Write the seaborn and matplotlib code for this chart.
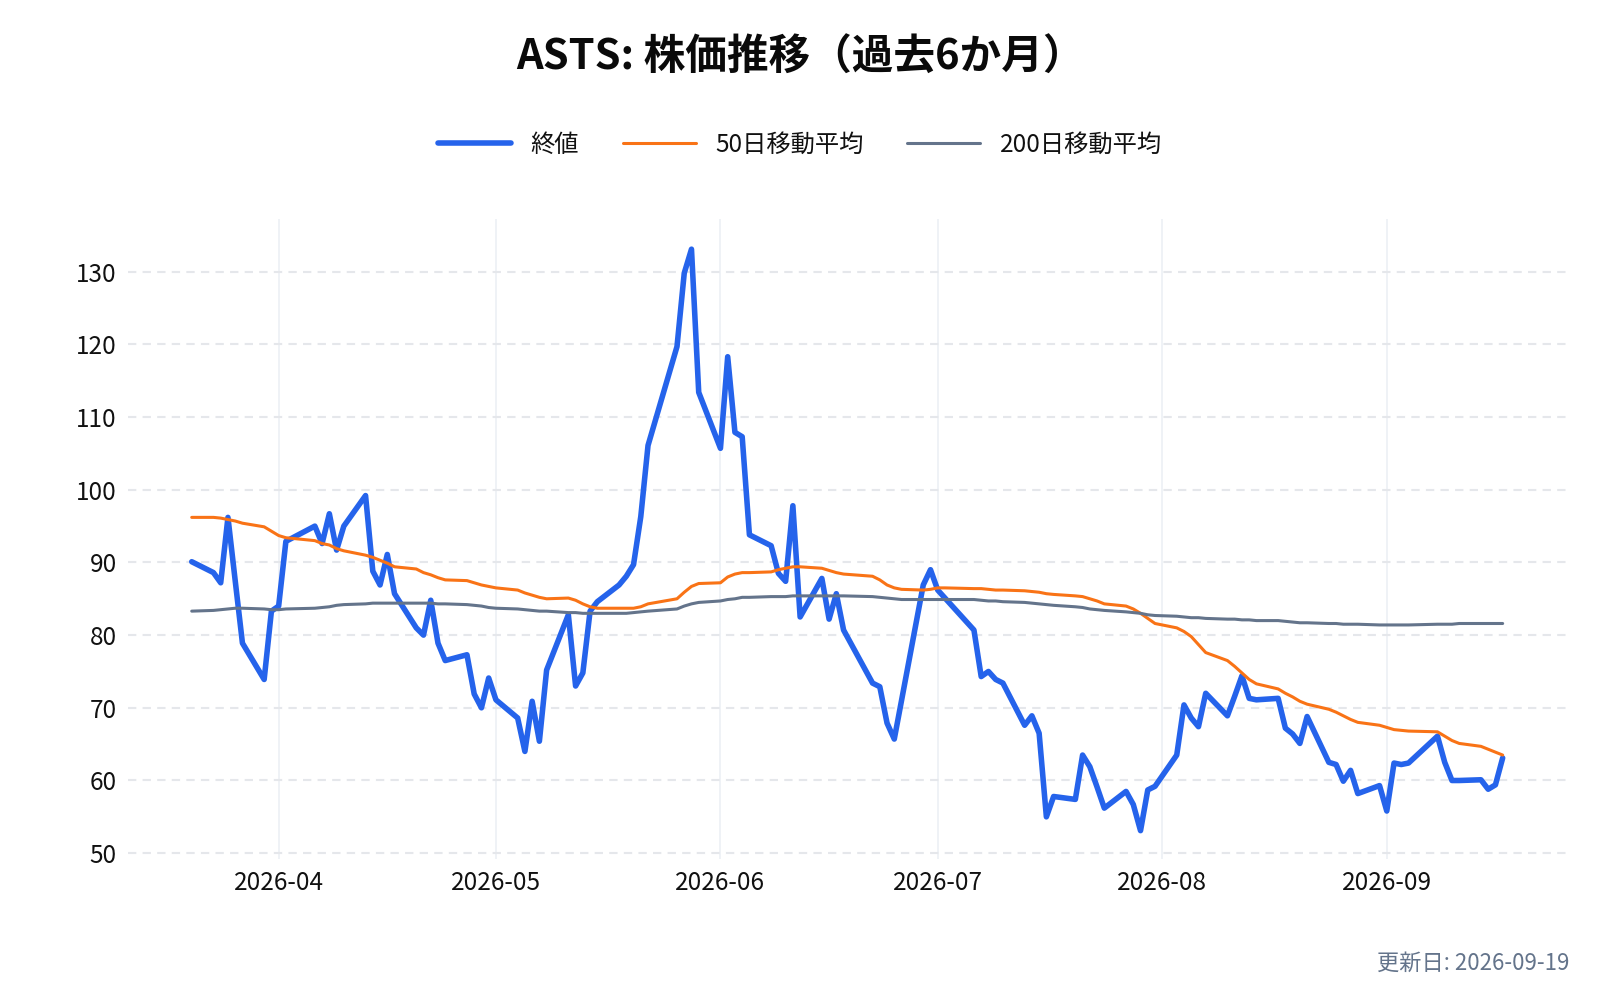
import pandas as pd
import numpy as np
import matplotlib.pyplot as plt
import matplotlib.dates as mdates
from matplotlib.lines import Line2D
import seaborn as sns

# trading days (US market holidays skipped)
holidays = ["2026-04-03", "2026-05-25", "2026-06-19", "2026-07-03", "2026-09-07"]
dates = pd.bdate_range("2026-03-20", "2026-09-17", freq="C", holidays=holidays)

close = [
    90.1, 88.6, 87.2, 96.2, 87.5, 78.9, 73.9, 83.3,                      # Mar
    84.0, 92.9, 95.0, 92.6, 96.7, 91.7, 95.0, 99.2, 88.8, 86.9, 91.1, 85.7,
    81.0, 80.0, 84.8, 78.9, 76.5, 77.3, 71.9, 70.0, 74.1,                # Apr
    71.1, 68.6, 64.0, 70.9, 65.4, 75.2, 82.8, 73.0, 74.8, 83.3, 84.6,
    86.9, 88.1, 89.7, 96.3, 106.1, 119.7, 129.8, 133.1, 113.4,           # May
    105.7, 118.3, 107.9, 107.3, 93.8, 92.3, 88.5, 87.4, 97.8, 82.5, 87.8,
    82.2, 85.7, 80.7, 73.4, 72.9, 67.9, 65.7, 71.0, 86.9, 89.0,          # Jun
    86.2, 85.1, 80.7, 74.3, 75.0, 73.9, 73.4, 67.6, 68.9, 66.5, 55.0,
    57.8, 57.4, 63.5, 61.9, 59.1, 56.2, 58.5, 56.7, 53.1, 58.7, 59.2,    # Jul
    63.5, 70.4, 68.6, 67.4, 72.0, 68.9, 71.6, 74.4, 71.3, 71.1, 71.3,
    67.2, 66.4, 65.1, 68.8, 62.5, 62.2, 59.9, 61.4, 58.2, 59.3,          # Aug
    55.8, 62.4, 62.2, 62.4, 66.1, 62.5, 60.0, 60.0, 60.1, 58.8, 59.4, 63.1,  # Sep
]

ma50 = [
    96.2, 96.2, 96.1, 95.9, 95.7, 95.4, 94.9, 94.3,
    93.7, 93.4, 93.0, 92.6, 92.4, 91.9, 91.6, 91.0, 90.7, 90.3, 89.9, 89.4,
    89.1, 88.6, 88.3, 87.9, 87.6, 87.5, 87.2, 86.9, 86.7,
    86.5, 86.2, 85.8, 85.5, 85.2, 85.0, 85.1, 84.8, 84.3, 83.9, 83.7,
    83.7, 83.7, 83.7, 83.9, 84.3, 85.0, 85.9, 86.7, 87.1,
    87.2, 88.0, 88.4, 88.6, 88.6, 88.7, 89.0, 89.2, 89.4, 89.4, 89.2,
    88.9, 88.6, 88.4, 88.1, 87.6, 86.9, 86.5, 86.3, 86.2, 86.3,
    86.5, 86.5, 86.4, 86.4, 86.3, 86.2, 86.2, 86.1, 86.0, 85.9, 85.7,
    85.6, 85.4, 85.3, 85.0, 84.7, 84.3, 84.0, 83.6, 83.0, 82.3, 81.6,
    81.0, 80.5, 79.8, 78.7, 77.6, 76.5, 75.7, 74.8, 73.9, 73.3, 72.6,
    72.0, 71.5, 70.9, 70.5, 69.8, 69.4, 68.9, 68.4, 68.0, 67.6,
    67.3, 67.0, 66.9, 66.8, 66.7, 66.1, 65.5, 65.1, 64.7, 64.3, 63.9, 63.5,
]

ma200 = [
    83.3, 83.4, 83.5, 83.6, 83.7, 83.7, 83.6, 83.5,
    83.5, 83.6, 83.7, 83.8, 83.9, 84.1, 84.2, 84.3, 84.4, 84.4, 84.4, 84.4,
    84.4, 84.4, 84.4, 84.3, 84.3, 84.2, 84.1, 84.0, 83.8,
    83.7, 83.6, 83.5, 83.4, 83.3, 83.3, 83.1, 83.1, 83.0, 83.0, 83.0,
    83.0, 83.0, 83.1, 83.2, 83.3, 83.6, 84.0, 84.3, 84.5,
    84.7, 84.9, 85.0, 85.2, 85.2, 85.3, 85.3, 85.3, 85.4, 85.4, 85.4,
    85.4, 85.4, 85.4, 85.3, 85.2, 85.1, 85.0, 84.9, 84.9, 84.9,
    84.9, 84.9, 84.9, 84.8, 84.7, 84.7, 84.6, 84.5, 84.4, 84.3, 84.2,
    84.1, 83.9, 83.8, 83.6, 83.5, 83.4, 83.2, 83.1, 83.0, 82.8, 82.7,
    82.6, 82.5, 82.4, 82.4, 82.3, 82.2, 82.2, 82.1, 82.1, 82.0, 82.0,
    81.9, 81.8, 81.7, 81.7, 81.6, 81.6, 81.5, 81.5, 81.5, 81.4,
    81.4, 81.4, 81.4, 81.4, 81.5, 81.5, 81.5, 81.6, 81.6, 81.6, 81.6, 81.6,
]

labels = ["終値", "50日移動平均", "200日移動平均"]
colors = ["#2563eb", "#f97316", "#64748b"]
widths = [4.0, 2.2, 2.2]

df = pd.DataFrame({"date": dates, "close": close, "ma50": ma50, "ma200": ma200})

sns.set_theme(style="white")
plt.rcParams["font.family"] = ["Noto Sans CJK JP", "DejaVu Sans"]

fig = plt.figure(figsize=(16, 10), dpi=100)
ax = fig.add_axes([0.08, 0.141, 0.899, 0.640])

for col, lab, c, w, z in zip(["close", "ma50", "ma200"], labels, colors, widths, [2, 3, 3]):
    sns.lineplot(data=df, x="date", y=col, ax=ax, color=c, linewidth=w,
                 label=lab, zorder=z, legend=False)

pad = pd.Timedelta(days=8.8)
ax.set_xlim(dates[0] - pad, dates[-1] + pad)
ax.set_ylim(49.2, 137.25)
ax.set_yticks(range(50, 131, 10))
ax.xaxis.set_major_locator(mdates.MonthLocator())
ax.xaxis.set_major_formatter(mdates.DateFormatter("%Y-%m"))

ax.grid(False)
ax.yaxis.grid(True, color="#e5e7eb", linestyle=(0, (4, 3)), linewidth=1.5)
ax.xaxis.grid(True, color="#eef1f6", linestyle="-", linewidth=1.3)
ax.set_axisbelow(True)
for s in ax.spines.values():
    s.set_visible(False)
ax.tick_params(axis="both", length=0, labelsize=17.5, colors="#111111")
ax.tick_params(axis="y", pad=8)
ax.tick_params(axis="x", pad=8)
ax.set_xlabel("")
ax.set_ylabel("")

fig.text(0.5, 0.942, "ASTS: 株価推移（過去6か月）", ha="center", va="center",
         fontsize=30, fontweight="bold", color="#0a0a0a")

handles = [Line2D([], [], color=c, linewidth=w) for c, w in zip(colors, widths)]
fig.legend(handles, labels, loc="center", bbox_to_anchor=(0.5, 0.855), ncol=3,
           frameon=False, fontsize=17.5, handlelength=3.0, handletextpad=0.8,
           columnspacing=1.8, labelcolor="#111111")

fig.text(0.981, 0.037, "更新日: 2026-09-19", ha="right", va="center",
         fontsize=16, color="#64748b")

fig.savefig("out.png", dpi=100)
